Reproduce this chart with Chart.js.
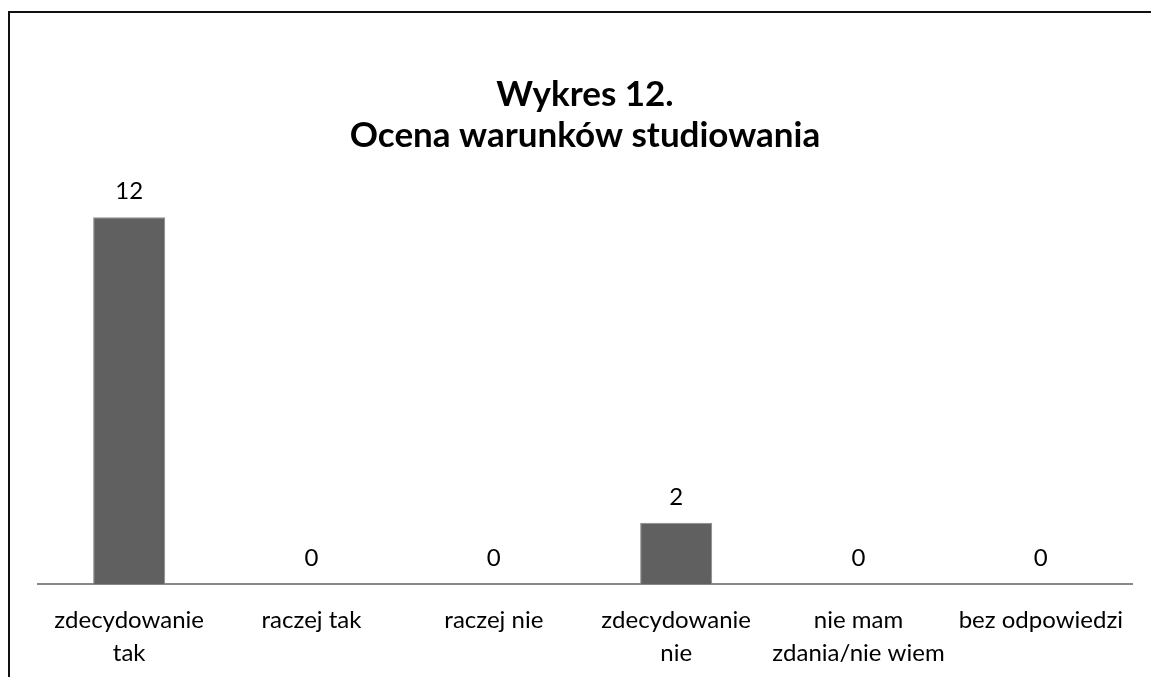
<!DOCTYPE html>
<html>
<head>
<meta charset="utf-8">
<script src="https://cdn.jsdelivr.net/npm/chart.js@4/dist/chart.umd.min.js"></script>
<style>
  html, body { margin: 0; padding: 0; background: #fff; overflow: hidden; }
  #wrap { position: relative; width: 1151px; height: 677px; }
  #frame { position: absolute; left: 8px; top: 11px; width: 1200px; height: 700px;
           border-left: 2px solid #111; border-top: 2px solid #111; box-sizing: border-box; pointer-events: none; }
  canvas { position: absolute; left: 0; top: 0; }
</style>
</head>
<body>
<div id="wrap">
  <canvas id="c" width="1151" height="677"></canvas>
  <div id="frame"></div>
</div>
<script>
const titleLines = ["Wykres 12.", "Ocena warunków studiowania"];
const categories = [["zdecydowanie", "tak"], "raczej tak", "raczej nie", ["zdecydowanie", "nie"], ["nie mam", "zdania/nie wiem"], "bez odpowiedzi"];
const values = [12, 0, 0, 2, 0, 0];
const yMax = 14;

const FONT = "Lato, 'Open Sans', sans-serif";

const valueLabels = {
  id: 'valueLabels',
  afterDatasetsDraw(chart) {
    const ctx = chart.ctx;
    const meta = chart.getDatasetMeta(0);
    ctx.save();
    ctx.font = "24px " + FONT;
    ctx.fillStyle = "#000";
    ctx.textAlign = "center";
    ctx.textBaseline = "alphabetic";
    meta.data.forEach((bar, i) => {
      ctx.fillText(String(values[i]), bar.x, bar.y - 18);
    });
    ctx.restore();
  }
};

new Chart(document.getElementById('c'), {
  type: 'bar',
  data: {
    labels: categories,
    datasets: [{
      data: values,
      backgroundColor: '#606060',
      borderColor: '#8a8a8a',
      borderWidth: 1,
      categoryPercentage: 1,
      barPercentage: 0.395
    }]
  },
  options: {
    responsive: false,
    animation: false,
    devicePixelRatio: 1,
    layout: { padding: { left: 38, right: 19, top: 0, bottom: -13 } },
    plugins: {
      legend: { display: false },
      tooltip: { enabled: false },
      title: {
        display: true,
        text: titleLines,
        color: '#000',
        font: { family: FONT, size: 35, weight: 'bold', lineHeight: '41px' },
        padding: { top: 74, bottom: 0 }
      }
    },
    scales: {
      x: {
        grid: { display: false, drawTicks: false },
        border: { display: true, color: '#888888', width: 2 },
        ticks: {
          color: '#000',
          font: { family: FONT, size: 24, lineHeight: '33px' },
          padding: 20,
          maxRotation: 0,
          autoSkip: false
        }
      },
      y: {
        display: false,
        min: 0,
        max: yMax
      }
    }
  },
  plugins: [valueLabels]
});
</script>
</body>
</html>
